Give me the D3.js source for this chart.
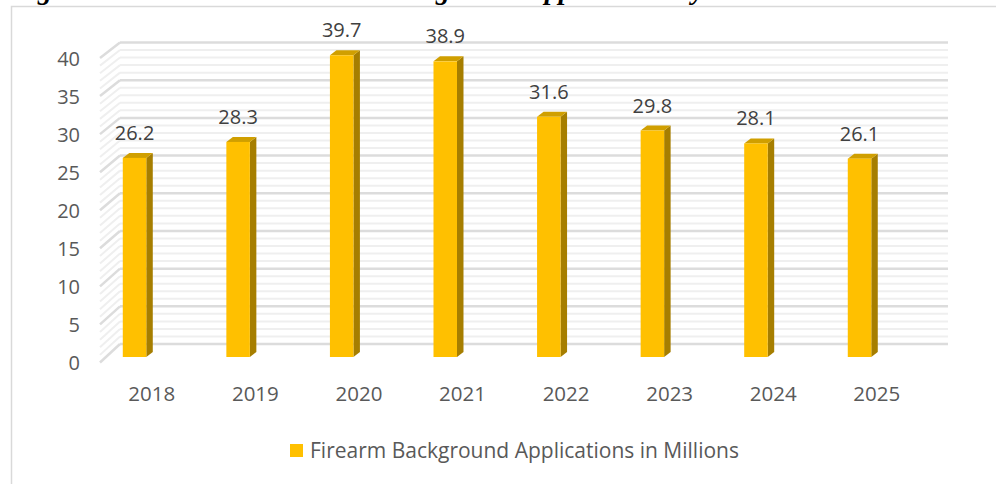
<!DOCTYPE html>
<html>
<head>
<meta charset="utf-8">
<script src="https://cdn.jsdelivr.net/npm/d3@7"></script>
<style>
  html, body { margin: 0; padding: 0; background: #fff; }
  svg { display: block; }
</style>
</head>
<body>
<svg id="chart" width="996" height="484"></svg>
<script>
// Firearm background applications per year (millions)
const years = ["2018", "2019", "2020", "2021", "2022", "2023", "2024", "2025"];
const applications = [26.2, 28.3, 39.7, 38.9, 31.6, 29.8, 28.1, 26.1];
const yTicks = [0, 5, 10, 15, 20, 25, 30, 35, 40];
const minorTicks = d3.range(0, 41, 1);
const seriesName = "Firearm Background Applications in Millions";
const titleLead = "Figure 1: Total Firearm ";
const titleTail = "Background Applications by Year";

const svg = d3.select("#chart");
const font = "'Open Sans', 'Noto Sans', sans-serif";

// Caption above the chart frame; only its lowest strokes fall inside the view
const title = svg.append("text")
  .attr("y", -1)
  .attr("font-family", "'Liberation Serif', 'Times New Roman', serif")
  .attr("font-weight", "bold").attr("font-style", "italic")
  .attr("font-size", 28).attr("fill", "#000");
const lead = title.append("tspan").text(titleLead);
const tail = title.append("tspan").text(titleTail);
// anchor the "g" glyphs of both parts at fixed positions
const leadG = lead.node().getSubStringLength(0, 2);
lead.attr("x", 38 - leadG);
const tailG = tail.node().getSubStringLength(0, 4);
tail.attr("x", 436 - tailG);

// Chart frame
svg.append("rect")
  .attr("x", 11.5).attr("y", 6.5).attr("width", 1000).attr("height", 500)
  .attr("fill", "#fff").attr("stroke", "#d9d9d9").attr("stroke-width", 1.5);

// Three depth planes of the 3-D plot: front edge of the side wall, bars, back wall
const yFront = d3.scaleLinear().domain([0, 40]).range([363.5, 59]);
const yBar = d3.scaleLinear().domain([0, 40]).range([357, 53]);
const yBack = d3.scaleLinear().domain([0, 40]).range([344, 42.5]);

const x = d3.scaleBand().domain(years).range([100, 100 + 8 * 103.57]);

const wallLeftFront = 100, wallLeftBack = 120, wallRight = 948;

const grid = svg.append("g");
// minor gridlines (back wall + side wall)
minorTicks.filter(v => v % 5 !== 0).forEach(v => {
  grid.append("line")
    .attr("x1", wallLeftBack).attr("x2", wallRight)
    .attr("y1", yBack(v)).attr("y2", yBack(v))
    .attr("stroke", "#efefef").attr("stroke-width", 2);
  grid.append("line")
    .attr("x1", wallLeftFront).attr("y1", yFront(v) - 1)
    .attr("x2", wallLeftBack).attr("y2", yBack(v))
    .attr("stroke", "#efefef").attr("stroke-width", 2);
});
// major gridlines
yTicks.forEach(v => {
  grid.append("line")
    .attr("x1", wallLeftBack).attr("x2", wallRight)
    .attr("y1", yBack(v)).attr("y2", yBack(v))
    .attr("stroke", "#dcdcdc").attr("stroke-width", 2.5);
  grid.append("line")
    .attr("x1", wallLeftFront).attr("y1", yFront(v) - 1)
    .attr("x2", wallLeftBack).attr("y2", yBack(v))
    .attr("stroke", "#dcdcdc").attr("stroke-width", 2.5);
});

// Value axis labels
const yAxis = d3.axisLeft(yFront).tickValues(yTicks).tickSize(0).tickPadding(0);
const yAxisG = svg.append("g").attr("transform", "translate(80,0)").call(yAxis);
yAxisG.select(".domain").remove();
yAxisG.selectAll("text")
  .attr("font-family", font).attr("font-size", 20).attr("fill", "#595959");

// Category axis labels
const xAxis = d3.axisBottom(x).tickSize(0).tickPadding(0);
const xAxisG = svg.append("g").attr("transform", "translate(0,386)").call(xAxis);
xAxisG.select(".domain").remove();
xAxisG.selectAll("text")
  .attr("font-family", font).attr("font-size", 20.5).attr("fill", "#595959");

// 3-D columns
const faceW = 23.5, depthX = 6.5, depthY = 5;
const bars = svg.append("g").selectAll("g").data(years.map((y, i) => ({ year: y, value: applications[i] })))
  .join("g");

bars.each(function (d) {
  const g = d3.select(this);
  const cx = x(d.year) + x.bandwidth() / 2;
  const left = cx - 29;
  const right = left + faceW;
  const top = yBar(d.value);
  const base = yBar(0);
  // side face
  g.append("path")
    .attr("d", `M${right},${top} L${right + depthX},${top - depthY} L${right + depthX},${base - depthY} L${right},${base} Z`)
    .attr("fill", "#a67e00");
  // top face
  g.append("path")
    .attr("d", `M${left},${top} L${left + depthX},${top - depthY} L${right + depthX},${top - depthY} L${right},${top} Z`)
    .attr("fill", "#d09f00");
  // front face
  g.append("rect")
    .attr("x", left).attr("y", top).attr("width", faceW).attr("height", base - top)
    .attr("fill", "#ffc000");
  // value label
  g.append("text")
    .attr("x", left + faceW / 2).attr("y", top - 18)
    .attr("text-anchor", "middle")
    .attr("font-family", font).attr("font-size", 20).attr("fill", "#404040")
    .text(d.value.toFixed(1));
});

// Legend
const legend = svg.append("g").attr("transform", "translate(290,444)");
legend.append("rect").attr("width", 13).attr("height", 13).attr("fill", "#ffc000");
legend.append("text")
  .attr("x", 20).attr("y", 13.5)
  .attr("font-family", font).attr("font-size", 21).attr("fill", "#595959")
  .text(seriesName);
</script>
</body>
</html>
